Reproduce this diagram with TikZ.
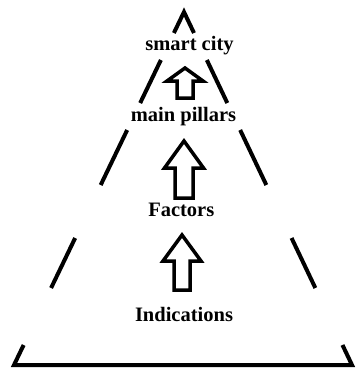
\documentclass[tikz,border=0pt]{standalone}
\usepackage{fontspec}
\setmainfont{Liberation Serif}
\usetikzlibrary{calc}
\tikzset{
  frame/.style={line width=4pt, line join=miter},
  blockarrow/.style={line width=3.5pt, line join=miter, fill=white},
  lbl/.style={anchor=base, inner sep=0pt, font=\fontsize{20.5}{24}\selectfont\bfseries}
}
\begin{document}
\begin{tikzpicture}[x=1pt,y=-1pt]
\useasboundingbox (0,0) rectangle (357,376);
\coordinate (A) at (184,12);
\coordinate (BL) at (14,365);
\coordinate (BR) at (352,365);
% apex
\draw[frame] ($(A)!0.0595!(BL)$) -- (A) -- ($(A)!0.0595!(BR)$);
% dashes
\foreach \s/\e in {0.136/0.2578, 0.3343/0.4901, 0.6402/0.7819}{
  \draw[frame] ($(A)!\s!(BL)$) -- ($(A)!\e!(BL)$);
  \draw[frame] ($(A)!\s!(BR)$) -- ($(A)!\e!(BR)$);
}
% base
\draw[frame] ($(A)!0.9433!(BL)$) -- (BL) -- (BR) -- ($(A)!0.9433!(BR)$);
% block arrows
\draw[blockarrow] (185,68) -- (203,81) -- (193,81) -- (193,98) -- (177,98) -- (177,81) -- (167,81) -- cycle;
\draw[blockarrow] (184,141) -- (203.5,168) -- (193,168) -- (193,198) -- (175,198) -- (175,168) -- (164.5,168) -- cycle;
\draw[blockarrow] (182,235) -- (201,261) -- (190,261) -- (190,290) -- (174,290) -- (174,261) -- (163,261) -- cycle;
% labels
\node[lbl] (city) at (189.5,50.7) {smart city};
\node[lbl] (pillars) at (183.5,121) {main pillars};
\node[lbl] (factors) at (181.3,216.7) {Factors};
\node[lbl] (ind) at (184,321.7) {Indications};
\end{tikzpicture}
\end{document}
